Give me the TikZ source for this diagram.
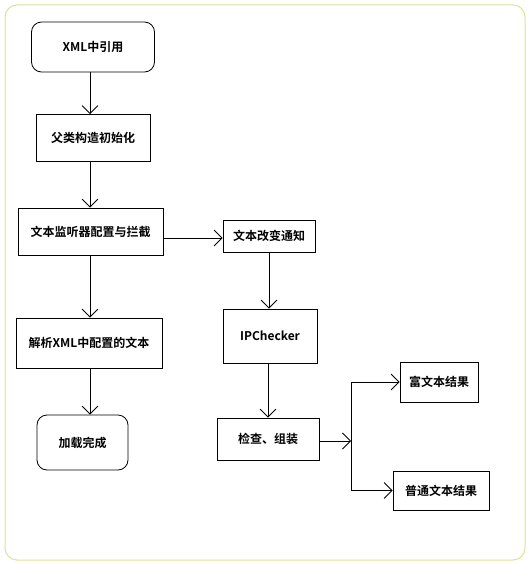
\documentclass[tikz,border=0pt]{standalone}
\usepackage{fontspec}
\setmainfont{Noto Sans CJK SC}[BoldFont={Noto Sans CJK SC Bold}]
\usetikzlibrary{arrows.meta}
\definecolor{framecol}{RGB}{222,228,150}
\tikzset{
  box/.style={draw, line width=0.8pt, minimum height=#1, inner sep=2pt, font=\fontsize{12}{14}\selectfont\bfseries},
  box/.default=46pt,
  term/.style={box=#1, rounded corners=10pt},
  flow/.style={->, line width=0.8pt},
}
\begin{document}
\begin{tikzpicture}[x=1pt, y=-1pt, >={Straight Barb[length=8pt, width=16pt]}]
  \useasboundingbox (0, 0) rectangle (530, 564);
  \draw[framecol, line width=1pt, rounded corners=12pt] (5, 5) rectangle (525, 560);
  % left column
  \node[term=50pt, minimum width=123pt] (xml) at (93, 47) {XML中引用};
  \node[box=47pt, minimum width=114pt] (init) at (93, 138) {父类构造初始化};
  \node[box=47pt, minimum width=145pt] (listen) at (90.5, 231.5) {文本监听器配置与拦截};
  \node[box=50pt, minimum width=146pt] (parse) at (89, 343) {解析XML中配置的文本};
  \node[term=55pt, minimum width=91pt] (done) at (82.5, 442.5) {加载完成};
  % right column
  \node[box=32pt, minimum width=92pt] (notify) at (269, 236) {文本改变通知};
  \node[box=54pt, minimum width=94pt] (ipc) at (270, 336) {IPChecker};
  \node[box=42pt, minimum width=102pt] (chk) at (268, 439) {检查、组装};
  \node[box=40pt, minimum width=78pt] (rich) at (439, 382) {富文本结果};
  \node[box=39pt, minimum width=96pt] (plain) at (441, 490.5) {普通文本结果};
  \coordinate (jn) at (351, 441);
  % connectors
  \draw[flow] (xml.south -| 90, 0) -- (init.north -| 90, 0);
  \draw[flow] (init.south -| 90, 0) -- (listen.north -| 90, 0);
  \draw[flow] (listen.south -| 90, 0) -- (parse.north -| 90, 0);
  \draw[flow] (parse.south -| 90, 0) -- (done.north -| 90, 0);
  \draw[flow] (listen.east |- 0, 238) -- (notify.west |- 0, 238);
  \draw[flow] (notify.south -| 269, 0) -- (ipc.north -| 269, 0);
  \draw[flow] (ipc.south -| 268, 0) -- (chk.north -| 268, 0);
  \draw[flow] (chk.east |- jn) -- (jn);
  \draw[flow] (jn) |- (rich.west);
  \draw[flow] (jn) |- (plain.west);
\end{tikzpicture}
\end{document}
